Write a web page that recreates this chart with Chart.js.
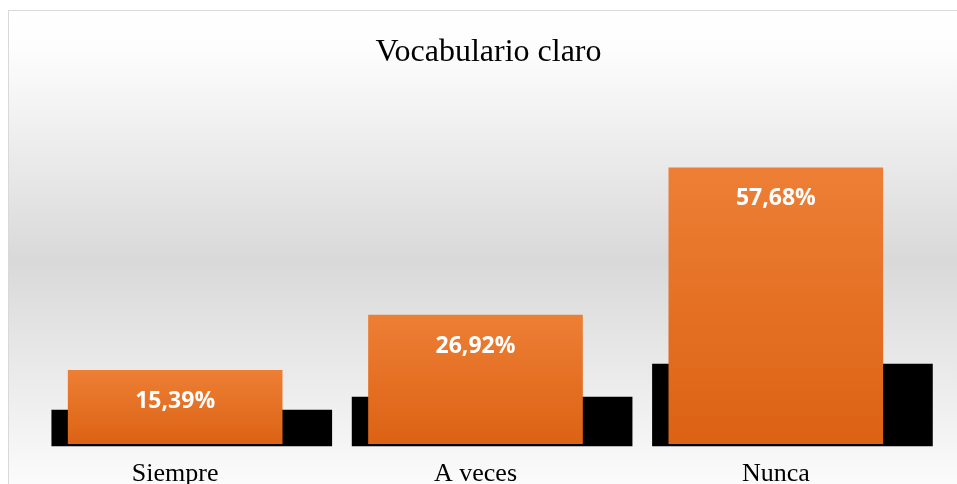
<!DOCTYPE html>
<html>
<head>
<meta charset="utf-8">
<script src="https://cdn.jsdelivr.net/npm/chart.js@4/dist/chart.umd.min.js"></script>
<style>
  html, body { margin: 0; padding: 0; background: #fff; }
  #wrap { width: 957px; height: 484px; }
</style>
</head>
<body>
<div id="wrap"><canvas id="vocabChart" width="957" height="484"></canvas></div>
<script>
// datos
const categories = ['Siempre', 'A veces', 'Nunca'];
const percentages = [15.39, 26.92, 57.68];
// sombra negra detrás de cada barra (aprox.)
const shadowValues = [7.1, 9.8, 16.7];

const ctx = document.getElementById('vocabChart').getContext('2d');

// fondo con degradado y marco
const backgroundPlugin = {
    id: 'bgFrame',
    beforeDraw(chart) {
        const c = chart.ctx;
        const g = c.createLinearGradient(0, 10, 0, 510);
        g.addColorStop(0, '#ffffff');
        g.addColorStop(0.08, '#fdfdfd');
        g.addColorStop(0.5, '#d9d9d9');
        g.addColorStop(1, '#ffffff');
        c.save();
        c.fillStyle = '#ffffff';
        c.fillRect(0, 0, chart.width, chart.height);
        c.fillStyle = g;
        c.fillRect(8, 10, chart.width, chart.height);
        c.strokeStyle = '#d9d9d9';
        c.lineWidth = 1;
        c.strokeRect(8.5, 10.5, chart.width + 10, chart.height + 10);
        c.restore();
    }
};

// etiquetas de valor dentro de las barras
const valueLabels = {
    id: 'valueLabels',
    afterDatasetsDraw(chart) {
        const meta = chart.getDatasetMeta(0);
        const c = chart.ctx;
        c.save();
        c.fillStyle = '#ffffff';
        c.font = 'bold 23px "Open Sans"';
        c.textAlign = 'center';
        c.textBaseline = 'middle';
        meta.data.forEach((bar, i) => {
            const txt = percentages[i].toFixed(2).replace('.', ',') + '%';
            c.fillText(txt, bar.x, bar.y + 31);
        });
        c.restore();
    }
};

function orangeGradient(context) {
    const chart = context.chart;
    const { chartArea, scales } = chart;
    if (!chartArea || context.type !== 'data') return '#E9762A';
    const top = scales.y.getPixelForValue(context.parsed.y);
    const base = scales.y.getPixelForValue(0);
    const g = chart.ctx.createLinearGradient(0, top, 0, base);
    g.addColorStop(0, '#ED7F35');
    g.addColorStop(1, '#DC6214');
    return g;
}

const data = {
    labels: categories,
    datasets: [{
        label: 'Vocabulario claro',
        data: percentages.map((v, i) => ({ x: i, y: v })),
        xAxisID: 'xb',
        backgroundColor: orangeGradient,
        borderWidth: 0,
        barThickness: 214,
        grouped: false,
        order: 1
    }, {
        label: 'sombra',
        data: shadowValues.map((v, i) => ({ x: i, y: v })),
        xAxisID: 'xs',
        backgroundColor: '#000000',
        borderWidth: 0,
        base: -0.4,
        barThickness: 280,
        grouped: false,
        clip: false,
        order: 2
    }]
};

const config = {
    type: 'bar',
    data: data,
    options: {
        responsive: false,
        animation: false,
        layout: {
            padding: { left: 38, right: 18, top: 0, bottom: -20 }
        },
        plugins: {
            legend: { display: false },
            tooltip: { enabled: false },
            title: {
                display: true,
                text: 'Vocabulario claro',
                color: '#000000',
                font: { family: '"Liberation Serif", "Times New Roman", serif', size: 32, weight: 'normal', lineHeight: 1.2 },
                padding: { top: 33, bottom: 37.3 }
            }
        },
        scales: {
            x: {
                grid: { display: false, drawTicks: false },
                border: { display: false },
                ticks: {
                    color: '#000000',
                    padding: 17,
                    labelOffset: -13,
                    font: { family: '"Liberation Serif", "Times New Roman", serif', size: 26, lineHeight: 1 }
                }
            },
            xb: {
                type: 'linear',
                display: false,
                min: -0.4567,
                max: 2.5433,
                offset: false
            },
            xs: {
                type: 'linear',
                display: false,
                min: -0.512,
                max: 2.488,
                offset: false
            },
            y: {
                display: false,
                min: 0,
                max: 70
            }
        }
    },
    plugins: [backgroundPlugin, valueLabels]
};

new Chart(ctx, config);
</script>
</body>
</html>
